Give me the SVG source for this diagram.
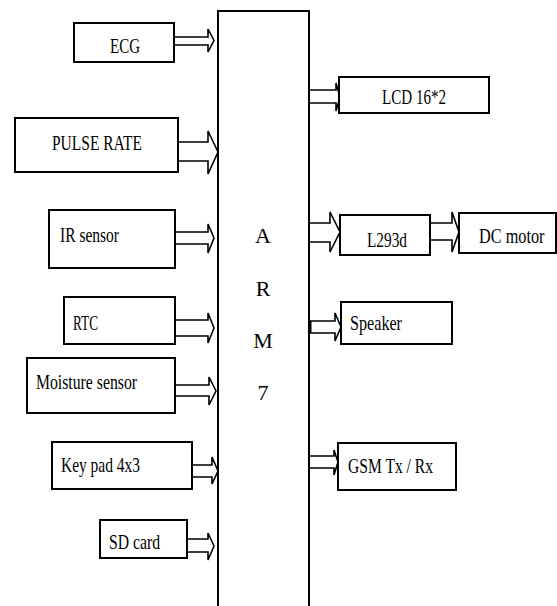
<svg xmlns="http://www.w3.org/2000/svg" width="557" height="606" viewBox="0 0 557 606">
<style>
.box{fill:#fff;stroke:#000;stroke-width:2}
.arr{fill:#fff;stroke:#000;stroke-width:1.6;stroke-linejoin:miter}
.t{font-family:'Liberation Serif','DejaVu Serif',serif;font-size:22px;fill:#000}
</style>
<rect width="557" height="606" fill="#fff"/>
<g id="connectors">
<polygon class="arr" points="174,37 208,37 208,29 214,40.5 208,52 208,45 174,45"/>
<polygon class="arr" points="178,142 208,142 208,131 218,152 208,174 208,161 178,161"/>
<polygon class="arr" points="175,232 208,232 208,224 214,238 208,253 208,244 175,244"/>
<polygon class="arr" points="175,320 208,320 208,313 214,328 208,343 208,336 175,336"/>
<polygon class="arr" points="175,385 209,385 209,377 216,391 209,405 209,396 175,396"/>
<polygon class="arr" points="192,465 212,465 212,457 218,471 212,484 212,477 192,477"/>
<polygon class="arr" points="187,539 208,539 208,533 214,546 208,560 208,552 187,552"/>
<polygon class="arr" points="309,90 336,90 336,83 340,97 336,111 336,103 309,103"/>
<polygon class="arr" points="309,223 330,223 330,212 340,232 330,252 330,242 309,242"/>
<polygon class="arr" points="430,223 452,223 452,212 459,232 452,252 452,240 430,240"/>
<polygon class="arr" points="309,321 335,321 335,313 341,327 335,341 335,333 309,333"/>
<line x1="310" y1="321" x2="310" y2="333" stroke="#000" stroke-width="3"/>
<polygon class="arr" points="309,456 334,456 334,450 338,462 334,475 334,468 309,468"/>
</g>
<g id="arm">
<rect class="box" x="218" y="11" width="91" height="600"/>
<text class="t" x="263" y="243" text-anchor="middle">A</text>
<text class="t" x="263" y="296" text-anchor="middle">R</text>
<text class="t" x="263" y="348" text-anchor="middle">M</text>
<text class="t" x="263" y="400" text-anchor="middle">7</text>
</g>
<g id="ecg">
<rect class="box" x="74" y="23" width="100" height="39"/>
<text class="t" x="110" y="53" textLength="30" lengthAdjust="spacingAndGlyphs">ECG</text>
</g>
<g id="pulse">
<rect class="box" x="15" y="118" width="163" height="54"/>
<text class="t" x="52" y="150" textLength="90" lengthAdjust="spacingAndGlyphs">PULSE RATE</text>
</g>
<g id="ir">
<rect class="box" x="49" y="210" width="126" height="58"/>
<text class="t" x="60" y="242" textLength="59" lengthAdjust="spacingAndGlyphs">IR sensor</text>
</g>
<g id="rtc">
<rect class="box" x="64" y="297" width="111" height="47"/>
<text class="t" x="73" y="330" textLength="25" lengthAdjust="spacingAndGlyphs">RTC</text>
</g>
<g id="moisture">
<rect class="box" x="27" y="358" width="148" height="55"/>
<text class="t" x="36" y="389" textLength="101" lengthAdjust="spacingAndGlyphs">Moisture sensor</text>
</g>
<g id="keypad">
<rect class="box" x="52" y="442" width="140" height="47"/>
<text class="t" x="61" y="472" textLength="79" lengthAdjust="spacingAndGlyphs">Key pad 4x3</text>
</g>
<g id="sdcard">
<rect class="box" x="100" y="520" width="87" height="38"/>
<text class="t" x="109" y="549" textLength="51" lengthAdjust="spacingAndGlyphs">SD card</text>
</g>
<g id="lcd">
<rect class="box" x="339" y="77" width="150" height="36"/>
<text class="t" x="382" y="104" textLength="64" lengthAdjust="spacingAndGlyphs">LCD 16*2</text>
</g>
<g id="l293d">
<rect class="box" x="340" y="215" width="90" height="40"/>
<text class="t" x="367" y="247" textLength="40" lengthAdjust="spacingAndGlyphs">L293d</text>
</g>
<g id="dcmotor">
<rect class="box" x="459" y="213" width="97" height="40"/>
<text class="t" transform="translate(479,243) scale(0.74,1)" x="0" y="0">DC motor</text>
</g>
<g id="speaker">
<rect class="box" x="341" y="302" width="111" height="42"/>
<text class="t" x="350" y="330" textLength="52" lengthAdjust="spacingAndGlyphs">Speaker</text>
</g>
<g id="gsm">
<rect class="box" x="338" y="443" width="118" height="47"/>
<text class="t" x="348" y="473" textLength="85" lengthAdjust="spacingAndGlyphs">GSM  Tx / Rx</text>
</g>
</svg>
